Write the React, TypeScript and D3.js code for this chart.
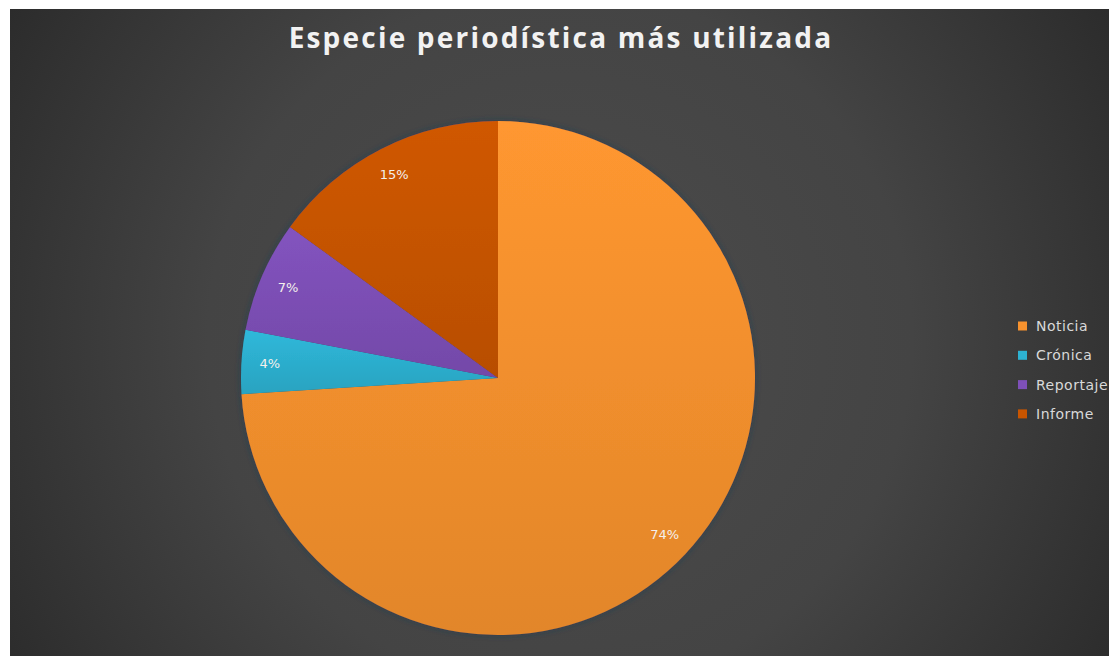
import React, { useRef, useEffect } from 'react';
import * as d3 from 'd3';

const categories = ['Noticia', 'Crónica', 'Reportaje', 'Informe'];
const shares = [74, 4, 7, 15];
const colors = ['#F7922E', '#2DB2D2', '#7E50B8', '#C95500'];
const chartTitle = 'Especie periodística más utilizada';

export default function App() {
  const svgRef = useRef<SVGSVGElement>(null);
  const width = 1109;
  const height = 656;

  useEffect(() => {
    const svg = d3.select(svgRef.current);
    svg.selectAll('*').remove();

    const defs = svg.append('defs');

    // background radial gradient
    const bg = defs.append('radialGradient')
      .attr('id', 'bgGrad')
      .attr('gradientUnits', 'userSpaceOnUse')
      .attr('cx', 560).attr('cy', 340).attr('r', 640);
    bg.append('stop').attr('offset', '0%').attr('stop-color', '#4c4c4c');
    bg.append('stop').attr('offset', '55%').attr('stop-color', '#444444');
    bg.append('stop').attr('offset', '100%').attr('stop-color', '#2c2c2c');

    // slice shading
    colors.forEach((c, i) => {
      const g = defs.append('linearGradient')
        .attr('id', `slice${i}`)
        .attr('x1', 0).attr('y1', 0).attr('x2', 0).attr('y2', 1);
      g.append('stop').attr('offset', '0%').attr('stop-color', d3.color(c)!.brighter(0.1).formatHex());
      g.append('stop').attr('offset', '100%').attr('stop-color', d3.color(c)!.darker(0.25).formatHex());
    });

    const shadow = defs.append('filter').attr('id', 'pieShadow')
      .attr('x', '-10%').attr('y', '-10%').attr('width', '120%').attr('height', '120%');
    shadow.append('feDropShadow')
      .attr('dx', 0).attr('dy', 0).attr('stdDeviation', 3)
      .attr('flood-color', '#1e3a55').attr('flood-opacity', 0.7);

    svg.append('rect').attr('width', width).attr('height', height).attr('fill', '#ffffff');
    svg.append('rect')
      .attr('x', 10).attr('y', 9)
      .attr('width', width - 10).attr('height', height - 9)
      .attr('fill', 'url(#bgGrad)');

    // title
    svg.append('text')
      .attr('x', 561)
      .attr('y', 48)
      .attr('text-anchor', 'middle')
      .attr('fill', '#f2f2f2')
      .attr('font-size', 28)
      .attr('font-weight', 'bold')
      .attr('letter-spacing', 2.2)
      .attr('font-family', 'Open Sans, sans-serif')
      .text(chartTitle);

    const cx = 498;
    const cy = 378;
    const radius = 257;

    const pie = d3.pie<number>().sort(null).value(d => d);
    const arcs = pie(shares);
    const arc = d3.arc<d3.PieArcDatum<number>>().innerRadius(0).outerRadius(radius);
    const labelArc = d3.arc<d3.PieArcDatum<number>>().innerRadius(radius * 0.89).outerRadius(radius * 0.89);

    const g = svg.append('g').attr('transform', `translate(${cx},${cy})`);

    g.append('g')
      .attr('filter', 'url(#pieShadow)')
      .selectAll('path')
      .data(arcs)
      .join('path')
      .attr('d', arc)
      .attr('fill', (d, i) => `url(#slice${i})`);

    g.selectAll('text.lbl')
      .data(arcs)
      .join('text')
      .attr('class', 'lbl')
      .attr('transform', d => `translate(${labelArc.centroid(d)})`)
      .attr('text-anchor', 'middle')
      .attr('dy', '0.35em')
      .attr('fill', '#f4f0ec')
      .attr('font-size', 13)
      .attr('font-family', 'DejaVu Sans, sans-serif')
      .text(d => `${d.data}%`);

    // legend
    const legend = svg.append('g').attr('transform', 'translate(1018,326)');
    const rows = legend.selectAll('g')
      .data(categories)
      .join('g')
      .attr('transform', (d, i) => `translate(0,${i * 29.3})`);
    rows.append('rect')
      .attr('x', 0).attr('y', -4.5)
      .attr('width', 9).attr('height', 9)
      .attr('fill', (d, i) => colors[i]);
    rows.append('text')
      .attr('x', 18)
      .attr('dy', '0.35em')
      .attr('fill', '#d9d9d9')
      .attr('font-size', 14)
      .attr('letter-spacing', 0.5)
      .attr('font-family', 'DejaVu Sans, sans-serif')
      .text(d => d);
  }, []);

  return (
    <svg
      ref={svgRef}
      width={width}
      height={height}
      style={{ position: 'absolute', left: 0, top: 0, display: 'block' }}
    />
  );
}
